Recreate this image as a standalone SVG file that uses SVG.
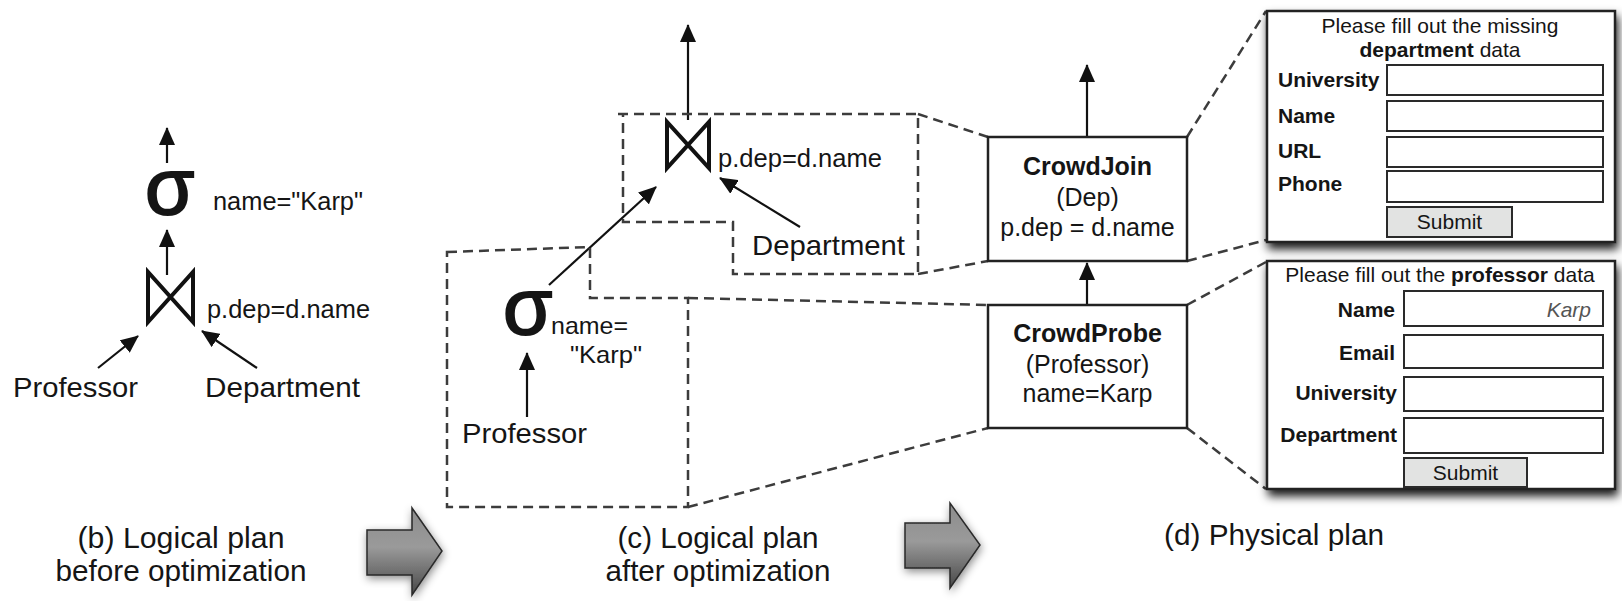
<svg xmlns="http://www.w3.org/2000/svg" width="1622" height="601" viewBox="0 0 1622 601">
<style>
text{font-family:"Liberation Sans",Arial,sans-serif;fill:#151515}
.t{font-size:25px}
.lbl{font-size:28px}
.cap{font-size:30px;text-anchor:middle}
.b{font-weight:bold}
.f{font-size:21px}
.mid{text-anchor:middle}
.end{text-anchor:end}
.sig{font-size:80px;stroke:#151515;stroke-width:2}
.arr{stroke:#111;stroke-width:2.2;fill:none;marker-end:url(#ah)}
.dash{stroke:#3c3c3c;stroke-width:2.5;fill:none;stroke-dasharray:10 6}
.box{fill:#fff;stroke:#222;stroke-width:2.5}
.form{fill:#fff;stroke:#222;stroke-width:2.5}
.inp{fill:#fff;stroke:#2a2a2a;stroke-width:2}
.btn{fill:#e2e3e2;stroke:#2a2a2a;stroke-width:2}
.join{fill:none;stroke:#111;stroke-width:4;stroke-linejoin:miter}
.big{fill:url(#gr);stroke:#2a2a2a;stroke-width:1.5;filter:url(#sh2)}
</style>
<defs>
<marker id="ah" viewBox="0 0 18 16" refX="17" refY="8" markerWidth="18" markerHeight="16" markerUnits="userSpaceOnUse" orient="auto"><path d="M0,0 L18,8 L0,16 z" fill="#111"/></marker>
<filter id="sh" x="-10%" y="-10%" width="125%" height="135%"><feDropShadow dx="2" dy="6" stdDeviation="5" flood-color="#000" flood-opacity="0.9"/></filter>
<filter id="sh2" x="-30%" y="-30%" width="170%" height="170%"><feDropShadow dx="1" dy="3" stdDeviation="4" flood-color="#000" flood-opacity="0.45"/></filter>
<linearGradient id="gr" x1="0" y1="0" x2="0" y2="1"><stop offset="0" stop-color="#8c8c8c"/><stop offset="0.45" stop-color="#9a9a9a"/><stop offset="1" stop-color="#474747"/></linearGradient>
</defs>

<g id="connectors">
  <line class="arr" x1="167" y1="163" x2="167" y2="128"/>
  <line class="arr" x1="167" y1="275" x2="167" y2="230"/>
  <line class="arr" x1="98" y1="368" x2="138" y2="336"/>
  <line class="arr" x1="257" y1="368" x2="202" y2="331"/>
  <line class="arr" x1="688" y1="120" x2="688" y2="25"/>
  <line class="arr" x1="549" y1="285" x2="656" y2="187"/>
  <line class="arr" x1="800" y1="227" x2="720" y2="178"/>
  <line class="arr" x1="527" y1="417" x2="527" y2="353"/>
  <line class="arr" x1="1087" y1="137" x2="1087" y2="65"/>
  <line class="arr" x1="1087" y1="305" x2="1087" y2="263"/>
  <path class="dash" d="M618,114 L918,114 L918,274 L733,274 L733,222 L623,222 L623,114"/>
  <path class="dash" d="M447,252 L590,247 L590,298 L688,298 L688,507 L447,507 Z"/>
  <path class="dash" d="M918,114 L988,137"/>
  <path class="dash" d="M918,274 L988,261"/>
  <path class="dash" d="M688,298 L988,305"/>
  <path class="dash" d="M688,507 L988,428"/>
  <path class="dash" d="M1187,137 L1266,11"/>
  <path class="dash" d="M1187,261 L1266,240"/>
  <path class="dash" d="M1187,305 L1266,262"/>
  <path class="dash" d="M1187,428 L1266,489"/>
</g>

<g id="b-select">
  <text class="sig" x="145" y="214">σ</text>
  <text class="t" x="213" y="210" textLength="150" lengthAdjust="spacingAndGlyphs">name=&quot;Karp&quot;</text>
</g>
<g id="b-join">
  <path class="join" d="M148,272 L148,322 L193,272 L193,322 Z"/>
  <text class="t" x="207" y="318" textLength="163" lengthAdjust="spacingAndGlyphs">p.dep=d.name</text>
</g>
<g id="b-professor"><text class="lbl" x="13" y="397" textLength="125" lengthAdjust="spacingAndGlyphs">Professor</text></g>
<g id="b-department"><text class="lbl" x="205" y="397" textLength="155" lengthAdjust="spacingAndGlyphs">Department</text></g>

<g id="c-join">
  <path class="join" d="M667,122 L667,168 L709,122 L709,168 Z"/>
  <text class="t" x="718" y="167" textLength="164" lengthAdjust="spacingAndGlyphs">p.dep=d.name</text>
</g>
<g id="c-department"><text class="lbl" x="752" y="255" textLength="153" lengthAdjust="spacingAndGlyphs">Department</text></g>
<g id="c-select">
  <text class="sig" x="503" y="334">σ</text>
  <text class="t" x="551" y="334" textLength="77" lengthAdjust="spacingAndGlyphs" style="font-size:24px">name=</text>
  <text class="t" x="570" y="363" textLength="72" lengthAdjust="spacingAndGlyphs" style="font-size:24px">&quot;Karp&quot;</text>
</g>
<g id="c-professor"><text class="lbl" x="462" y="443" textLength="125" lengthAdjust="spacingAndGlyphs">Professor</text></g>

<g id="crowdjoin">
  <rect class="box" x="988" y="137" width="199" height="124"/>
  <text class="t b mid" x="1087.5" y="175">CrowdJoin</text>
  <text class="t mid" x="1087.5" y="206">(Dep)</text>
  <text class="t mid" x="1087.5" y="236">p.dep = d.name</text>
</g>
<g id="crowdprobe">
  <rect class="box" x="988" y="305" width="199" height="123"/>
  <text class="t b mid" x="1087.5" y="342">CrowdProbe</text>
  <text class="t mid" x="1087.5" y="373">(Professor)</text>
  <text class="t mid" x="1087.5" y="402">name=Karp</text>
</g>

<g id="form-department">
  <rect class="form" x="1267" y="11" width="348" height="231" filter="url(#sh)"/>
  <text class="f mid" x="1440" y="33">Please fill out the missing</text>
  <text class="f mid" x="1440" y="57"><tspan class="b">department</tspan> data</text>
  <text class="f b" x="1278" y="87">University</text>
  <text class="f b" x="1278" y="123">Name</text>
  <text class="f b" x="1278" y="158">URL</text>
  <text class="f b" x="1278" y="191">Phone</text>
  <rect class="inp" x="1387" y="65" width="216" height="30"/>
  <rect class="inp" x="1387" y="101" width="216" height="30"/>
  <rect class="inp" x="1387" y="137" width="216" height="30"/>
  <rect class="inp" x="1387" y="171" width="216" height="31"/>
  <rect class="btn" x="1387" y="207" width="125" height="30"/>
  <text class="f mid" x="1449.5" y="229">Submit</text>
</g>

<g id="form-professor">
  <rect class="form" x="1267" y="261" width="348" height="228" filter="url(#sh)"/>
  <text class="f mid" x="1440" y="282">Please fill out the <tspan class="b">professor</tspan> data</text>
  <text class="f b end" x="1395" y="317">Name</text>
  <text class="f b end" x="1395" y="360">Email</text>
  <text class="f b end" x="1397" y="400">University</text>
  <text class="f b end" x="1397" y="442">Department</text>
  <rect class="inp" x="1404" y="291" width="199" height="35"/>
  <rect class="inp" x="1404" y="335" width="199" height="33"/>
  <rect class="inp" x="1404" y="377" width="199" height="34"/>
  <rect class="inp" x="1404" y="418" width="199" height="35"/>
  <text class="f end" x="1591" y="317" style="font-style:italic;fill:#555">Karp</text>
  <rect class="btn" x="1404" y="458" width="123" height="29"/>
  <text class="f mid" x="1465.5" y="480">Submit</text>
</g>

<g id="step-arrow-1"><path class="big" d="M367,530 L412,530 L412,508 L442,551 L412,595 L412,575 L367,575 Z"/></g>
<g id="step-arrow-2"><path class="big" d="M905,523 L950,523 L950,503 L980,545 L950,588 L950,568 L905,568 Z"/></g>

<g id="captions">
  <text class="cap" x="181" y="548" textLength="207" lengthAdjust="spacingAndGlyphs">(b) Logical plan</text>
  <text class="cap" x="181" y="581" textLength="251" lengthAdjust="spacingAndGlyphs">before optimization</text>
  <text class="cap" x="718" y="548" textLength="201" lengthAdjust="spacingAndGlyphs">(c) Logical plan</text>
  <text class="cap" x="718" y="581" textLength="225" lengthAdjust="spacingAndGlyphs">after optimization</text>
  <text class="cap" x="1274" y="545" textLength="220" lengthAdjust="spacingAndGlyphs">(d) Physical plan</text>
</g>
</svg>
